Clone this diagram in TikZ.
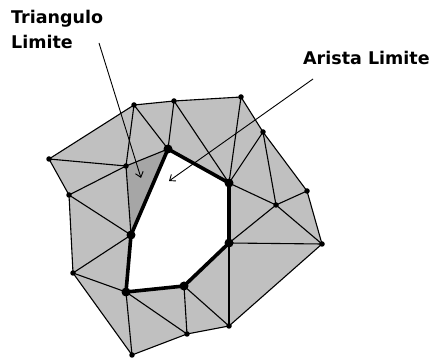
\documentclass[tikz,border=0pt]{standalone}
\usepackage{fontspec}
\setmainfont{DejaVu Sans}
\usetikzlibrary{arrows.meta}
\definecolor{meshgray}{RGB}{192,192,192}
\definecolor{limgray}{RGB}{166,166,166}
\tikzset{
  thinedge/.style={line width=1.1pt,black},
  holeedge/.style={line width=3.6pt,black,line cap=round,line join=round},
  smalldot/.style={circle,fill=black,inner sep=0pt,minimum size=5.5pt},
  bigdot/.style={circle,fill=black,inner sep=0pt,minimum size=9pt},
  lbl/.style={font=\fontsize{17.5}{25}\selectfont\bfseries,inner sep=0pt,anchor=base west},
  pointer/.style={line width=0.9pt,-{Straight Barb[length=5pt,width=8pt]}}
}
\begin{document}
\begin{tikzpicture}[x=1pt,y=-1pt]
\useasboundingbox (0,0) rectangle (432,358);
% outer vertices
\coordinate (A) at (49,159);
\coordinate (B) at (134,105);
\coordinate (C) at (174,101);
\coordinate (D) at (241,97);
\coordinate (E) at (263,132);
\coordinate (F) at (307,191);
\coordinate (G) at (322,244);
\coordinate (H) at (229,326);
\coordinate (I) at (187,334);
\coordinate (J) at (132,355);
\coordinate (K) at (73,273);
\coordinate (L) at (69,195);
% interior vertices
\coordinate (M) at (126,166);
\coordinate (N) at (276,205);
% hole vertices
\coordinate (P1) at (168,149);
\coordinate (P2) at (229,183);
\coordinate (P3) at (229,243);
\coordinate (P4) at (184,286);
\coordinate (P5) at (126,292);
\coordinate (P6) at (131,235);
% fill
\fill[meshgray,even odd rule] (A)--(B)--(C)--(D)--(E)--(F)--(G)--(H)--(I)--(J)--(K)--(L)--cycle
  (P1)--(P2)--(P3)--(P4)--(P5)--(P6)--cycle;
\fill[limgray] (M)--(P1)--(P6)--cycle;
% outer boundary
\draw[thinedge] (A)--(B)--(C)--(D)--(E)--(F)--(G)--(H)--(I)--(J)--(K)--(L)--cycle;
% interior edges
\draw[thinedge] (A)--(M);
\draw[thinedge] (B)--(M);
\draw[thinedge] (B)--(P1);
\draw[thinedge] (C)--(P1);
\draw[thinedge] (M)--(P1);
\draw[thinedge] (M)--(L);
\draw[thinedge] (M)--(P6);
\draw[thinedge] (L)--(P6);
\draw[thinedge] (K)--(P6);
\draw[thinedge] (K)--(P5);
\draw[thinedge] (P5)--(J);
\draw[thinedge] (P5)--(I);
\draw[thinedge] (P4)--(I);
\draw[thinedge] (P4)--(H);
\draw[thinedge] (P3)--(H);
\draw[thinedge] (P3)--(G);
\draw[thinedge] (N)--(P3);
\draw[thinedge] (N)--(G);
\draw[thinedge] (N)--(F);
\draw[thinedge] (E)--(N);
\draw[thinedge] (E)--(P2);
\draw[thinedge] (D)--(P2);
\draw[thinedge] (C)--(P2);
\draw[thinedge] (P2)--(N);
% hole boundary
\draw[holeedge] (P1)--(P2)--(P3)--(P4)--(P5)--(P6)--cycle;
% vertex dots
\foreach \v in {A,B,C,D,E,F,G,H,I,J,K,L,M,N}
  \node[smalldot] (d\v) at (\v) {};
\foreach \v in {P1,P2,P3,P4,P5,P6}
  \node[bigdot] (d\v) at (\v) {};
% labels
\node[lbl] (t1) at (11,24) {Triangulo};
\node[lbl] (t2) at (11,49) {Limite};
\node[lbl] (t3) at (303,65) {Arista Limite};
\coordinate (s1) at (99,43);
\coordinate (e1) at (141,178);
\coordinate (s2) at (313,79);
\coordinate (e2) at (169,181);
\draw[pointer] (s1)--(e1);
\draw[pointer] (s2)--(e2);
\end{tikzpicture}
\end{document}
